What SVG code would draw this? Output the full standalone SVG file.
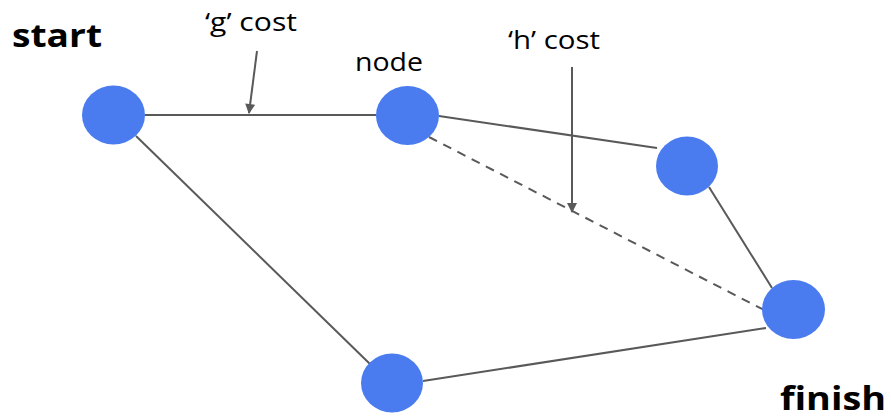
<svg xmlns="http://www.w3.org/2000/svg" width="891" height="417" viewBox="0 0 891 417">
<defs>
<style>
.n{fill:#4a7cef}
.e{stroke:#595959;stroke-width:2;fill:none}
.d{stroke-dasharray:9 7}
.lbl{font-family:"Open Sans","Noto Sans",sans-serif;font-size:25px;fill:#000}
.big{font-family:"Open Sans","Noto Sans",sans-serif;font-size:32px;font-weight:bold;fill:#000}
</style>
<marker id="ah" viewBox="0 0 10 10" refX="9" refY="5" markerWidth="5.5" markerHeight="5" orient="auto" markerUnits="strokeWidth">
<path d="M0,0 L10,5 L0,10 z" fill="#595959"/>
</marker>
</defs>
<rect width="891" height="417" fill="#fff"/>
<g id="connectors">
<line class="e" x1="145" y1="115" x2="376" y2="115"/>
<line class="e" x1="439" y1="116" x2="657" y2="148"/>
<line class="e" x1="709" y1="187" x2="772" y2="288"/>
<line class="e" x1="136" y1="136" x2="370" y2="364"/>
<line class="e" x1="423" y1="381" x2="766" y2="328"/>
<line class="e d" x1="429" y1="137" x2="764" y2="310"/>
<line class="e" x1="257" y1="51" x2="249" y2="113" marker-end="url(#ah)"/>
<line class="e" x1="572" y1="67" x2="572" y2="212" marker-end="url(#ah)"/>
</g>
<g id="start"><ellipse class="n" cx="113.5" cy="115" rx="31.5" ry="29.5"/></g>
<g id="node"><ellipse class="n" cx="407.5" cy="115.5" rx="31.5" ry="29.5"/></g>
<g id="upper"><ellipse class="n" cx="687" cy="166" rx="31" ry="29.5"/></g>
<g id="finish"><ellipse class="n" cx="793.5" cy="309.5" rx="31.5" ry="29.5"/></g>
<g id="bottom"><ellipse class="n" cx="392" cy="383" rx="31" ry="29.5"/></g>
<g id="labels">
<text class="big" x="12" y="47" textLength="90" lengthAdjust="spacingAndGlyphs">start</text>
<text class="big" x="780" y="410" font-size="31" textLength="106" lengthAdjust="spacingAndGlyphs">finish</text>
<text class="lbl" x="205" y="31" textLength="92" lengthAdjust="spacingAndGlyphs">‘g’ cost</text>
<text class="lbl" x="355" y="71" textLength="68" lengthAdjust="spacingAndGlyphs">node</text>
<text class="lbl" x="508" y="49" textLength="92" lengthAdjust="spacingAndGlyphs">‘h’ cost</text>
</g>
</svg>
